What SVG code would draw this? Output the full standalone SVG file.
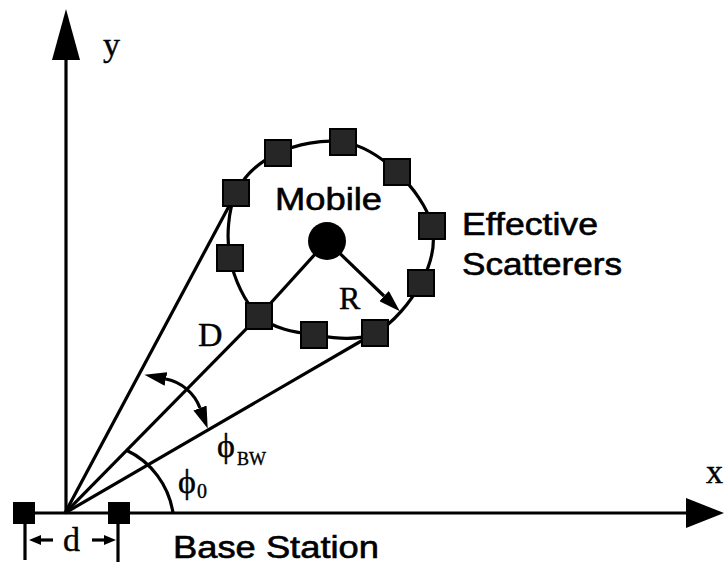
<svg xmlns="http://www.w3.org/2000/svg" width="725" height="569" viewBox="0 0 725 569">
<style>
.ln{fill:none;stroke:#000;stroke-width:3.2}
.sc{fill:#262626;stroke:#000;stroke-width:2}
.bs{fill:#000}
.sans{font-family:"Liberation Sans",Arial,sans-serif;font-size:31px;fill:#000;stroke:#000;stroke-width:0.6}
.serif{font-family:"Liberation Serif","DejaVu Serif","Times New Roman",serif;font-size:34px;fill:#000;stroke:#000;stroke-width:0.4}
</style>
<defs>
<marker id="arr" viewBox="0 0 22 14" refX="0" refY="7" markerWidth="22" markerHeight="14" markerUnits="userSpaceOnUse" orient="auto-start-reverse">
<path d="M0,0 L22,7 L0,14 z" fill="#000"/>
</marker>
<marker id="arrS" viewBox="0 0 12 10" refX="0" refY="5" markerWidth="12" markerHeight="10" markerUnits="userSpaceOnUse" orient="auto-start-reverse">
<path d="M0,0 L12,5 L0,10 z" fill="#000"/>
</marker>
</defs>
<rect width="725" height="569" fill="#fff"/>

<g id="connectors">
<!-- axes -->
<line class="ln" x1="66" y1="513" x2="66" y2="58"/>
<polygon points="66,9 52,60 80,60" fill="#000"/>
<line class="ln" x1="13" y1="513" x2="688" y2="513"/>
<polygon points="724,513 686,498 686,528" fill="#000"/>
<!-- scatterer ring -->
<path class="ln" d="M236,193 C244,175.5 260.2,161.5 278,153 C295.8,144.5 323.2,138.8 343,142 C362.8,145.2 382.2,158 397,172 C411.8,186 428,207.5 432,226 C436,244.5 430.5,265.2 421,283 C411.5,300.8 392.8,324.3 375,333 C357.2,341.7 333.3,337.8 314,335 C294.7,332.2 273,328.8 259,316 C245,303.2 233.8,278.5 230,258 C226.2,237.5 228,210.5 236,193 Z"/>
<!-- rays from base station -->
<line class="ln" x1="65" y1="513" x2="236" y2="193"/>
<line class="ln" x1="65" y1="513" x2="259" y2="316"/>
<line class="ln" x1="65" y1="513" x2="375" y2="333"/>
<!-- mobile links -->
<line class="ln" x1="327" y1="241" x2="259" y2="316"/>
<line class="ln" x1="327" y1="241" x2="384" y2="296" marker-end="url(#arr)"/>
<!-- beamwidth double arrow -->
<path class="ln" d="M166,379 A46,46 0 0 1 200,408" marker-start="url(#arr)" marker-end="url(#arr)"/>
<!-- phi0 arc -->
<path class="ln" d="M173,513 A83,83 0 0 0 126,450"/>
<!-- d dimension -->
<line class="ln" x1="25" y1="522" x2="25" y2="560"/>
<line class="ln" x1="118" y1="522" x2="118" y2="562"/>
<line class="ln" x1="53" y1="540" x2="41" y2="540" marker-end="url(#arrS)"/>
<line class="ln" x1="92" y1="540" x2="104" y2="540" marker-end="url(#arrS)"/>
</g>

<g id="base-station">
<rect class="bs" x="13" y="502" width="22" height="22"/>
<rect class="bs" x="108" y="502" width="22" height="22"/>
<text class="sans" x="173" y="558" textLength="206" lengthAdjust="spacingAndGlyphs">Base Station</text>
</g>

<g id="mobile">
<circle cx="327" cy="241" r="19" fill="#000"/>
<text class="sans" x="275" y="210" textLength="107" lengthAdjust="spacingAndGlyphs">Mobile</text>
</g>

<g id="scatterers">
<rect class="sc" x="223" y="180" width="26" height="26"/>
<rect class="sc" x="265" y="140" width="26" height="26"/>
<rect class="sc" x="330" y="129" width="26" height="26"/>
<rect class="sc" x="384" y="159" width="26" height="26"/>
<rect class="sc" x="419" y="213" width="26" height="26"/>
<rect class="sc" x="408" y="270" width="26" height="26"/>
<rect class="sc" x="362" y="320" width="26" height="26"/>
<rect class="sc" x="301" y="322" width="26" height="26"/>
<rect class="sc" x="246" y="303" width="26" height="26"/>
<rect class="sc" x="217" y="245" width="26" height="26"/>
<text class="sans" x="462" y="235" textLength="136" lengthAdjust="spacingAndGlyphs">Effective</text>
<text class="sans" x="462" y="275" textLength="160" lengthAdjust="spacingAndGlyphs">Scatterers</text>
</g>

<g id="labels">
<text class="serif" x="103" y="56">y</text>
<text class="serif" x="706" y="483">x</text>
<text class="serif" x="198" y="346">D</text>
<text class="serif" x="339" y="309" style="font-size:32px">R</text>
<text class="serif" x="63" y="551">d</text>
<text class="serif" x="217" y="457">ϕ<tspan x="237" y="465" style="font-size:18px">BW</tspan></text>
<text class="serif" x="178" y="493">ϕ<tspan x="197" y="498" style="font-size:20px">0</tspan></text>
</g>
</svg>
